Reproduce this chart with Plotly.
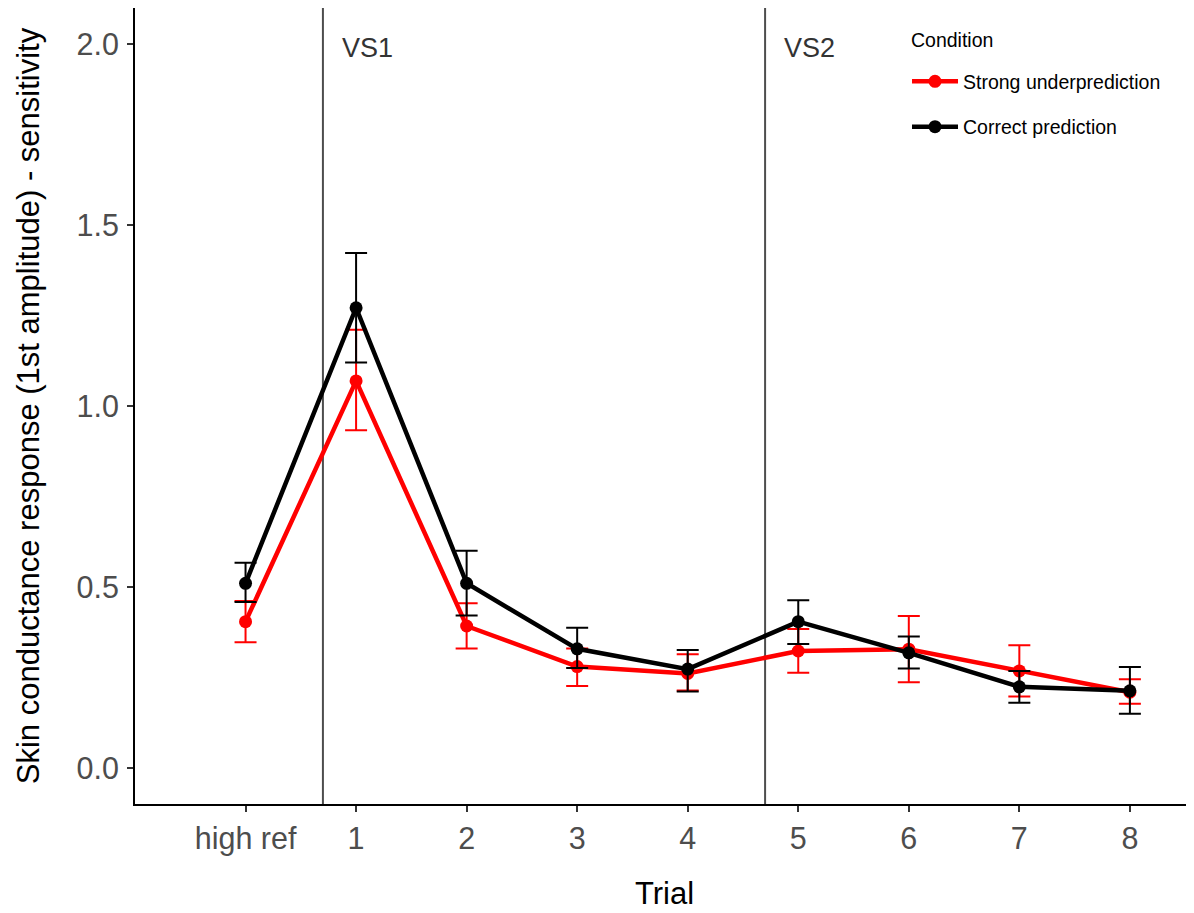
import plotly.graph_objects as go

trials = ["high ref", "1", "2", "3", "4", "5", "6", "7", "8"]

red_name = "Strong underprediction"
red_mean = [0.405, 1.070, 0.393, 0.281, 0.262, 0.324, 0.329, 0.269, 0.210]
red_upper = [0.462, 1.211, 0.456, 0.331, 0.315, 0.385, 0.421, 0.340, 0.246]
red_lower = [0.348, 0.934, 0.331, 0.227, 0.215, 0.264, 0.238, 0.198, 0.178]

black_name = "Correct prediction"
black_mean = [0.511, 1.272, 0.511, 0.330, 0.274, 0.405, 0.319, 0.225, 0.214]
black_upper = [0.568, 1.423, 0.601, 0.388, 0.327, 0.464, 0.364, 0.269, 0.280]
black_lower = [0.459, 1.121, 0.422, 0.277, 0.212, 0.343, 0.276, 0.181, 0.151]

vs_positions = [0.7, 4.7]
vs_labels = ["VS1", "VS2"]

legend_title = "Condition"

FONT = "Liberation Sans, Arial, sans-serif"

fig = go.Figure()


def add_series(name, mean, upper, lower, color, group):
    plus = [u - m for u, m in zip(upper, mean)]
    minus = [m - l for m, l in zip(mean, lower)]
    fig.add_trace(go.Scatter(
        x=trials, y=mean, name=name, mode="lines+markers",
        legendgroup=group,
        line=dict(color=color, width=4.5),
        marker=dict(color=color, size=13),
        error_y=dict(type="data", array=plus, arrayminus=minus, symmetric=False,
                     color=color, thickness=2, width=11),
    ))


add_series(red_name, red_mean, red_upper, red_lower, "#FF0000", "g1")
add_series(black_name, black_mean, black_upper, black_lower, "#000000", "g2")

for xv, lab in zip(vs_positions, vs_labels):
    fig.add_shape(type="line", xref="x", yref="paper", x0=xv, x1=xv, y0=0, y1=1,
                  line=dict(color="#4D4D4D", width=2), layer="below")
    fig.add_annotation(x=xv + 0.15, y=1.99, xref="x", yref="y", text=lab,
                       showarrow=False, xanchor="left", yanchor="middle",
                       font=dict(family=FONT, size=27, color="#333333"))

fig.add_annotation(x=0.731, y=0.96, xref="paper", yref="paper", text=legend_title,
                   showarrow=False, xanchor="left", yanchor="middle",
                   font=dict(family=FONT, size=19.5, color="#000000"))

fig.update_layout(
    width=1186, height=905,
    margin=dict(l=127, r=0, t=0, b=109),
    paper_bgcolor="white", plot_bgcolor="white",
    font=dict(family=FONT, color="#000000"),
    showlegend=True,
    legend=dict(
        font=dict(family=FONT, size=19.5, color="#000000"),
        x=0.729, y=0.932, xanchor="left", yanchor="top",
        traceorder="grouped",
        bgcolor="rgba(0,0,0,0)", tracegroupgap=17, itemwidth=46,
    ),
    xaxis=dict(
        type="category", categoryorder="array", categoryarray=trials,
        range=[-1.0, 8.58],
        showline=True, linecolor="#000000", linewidth=2,
        ticks="outside", ticklen=6, tickwidth=2, tickcolor="#333333",
        tickfont=dict(family=FONT, size=30.5, color="#4D4D4D"),
        showgrid=False, zeroline=False,
        title=dict(text="Trial", font=dict(family=FONT, size=31, color="#000000"), standoff=28),
    ),
    yaxis=dict(
        range=[-0.0986, 2.100],
        tickvals=[0, 0.5, 1.0, 1.5, 2.0], tickformat=".1f",
        showline=True, linecolor="#000000", linewidth=2,
        ticks="outside", ticklen=6, tickwidth=2, tickcolor="#333333",
        tickfont=dict(family=FONT, size=30.5, color="#4D4D4D"),
        ticklabelstandoff=2,
        showgrid=False, zeroline=False,
        title=dict(text="Skin conductance response (1st amplitude) - sensitivity",
                   font=dict(family=FONT, size=31, color="#000000"), standoff=28),
    ),
)

fig.write_html("out.html")
